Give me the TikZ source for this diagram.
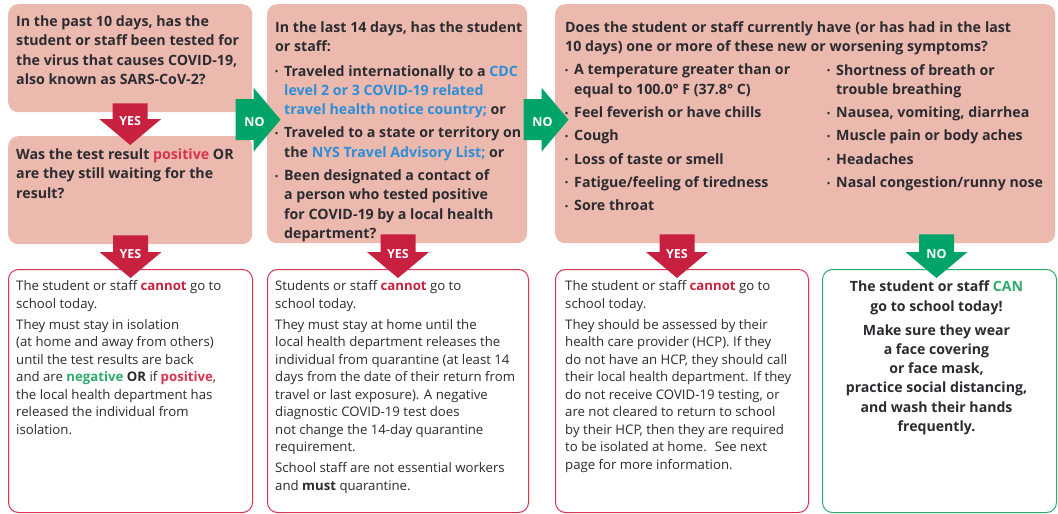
\documentclass[tikz,border=0pt]{standalone}
\usepackage{fontspec}
\setmainfont{Open Sans}
\usetikzlibrary{positioning,calc}
\definecolor{ink}{HTML}{2B2B30}
\definecolor{blush}{HTML}{ECB9AF}
\definecolor{crimson}{HTML}{C8203F}
\definecolor{rose}{HTML}{D8344F}
\definecolor{mint}{HTML}{00A468}
\definecolor{leaf}{HTML}{2EAA6B}
\definecolor{sky}{HTML}{2C8ED6}
\newcommand{\bul}{\makebox[9pt][l]{\raisebox{0.2ex}{\fontsize{8}{8}\selectfont\textbullet}}}
\newcommand{\ind}{\hspace*{9pt}}

\begin{document}
\begin{tikzpicture}[x=1pt,y=-1pt,
  qbox/.style={fill=blush,rounded corners=10pt,anchor=north west,inner sep=0pt},
  abox/.style={draw=#1,fill=white,line width=1pt,rounded corners=10pt,anchor=north west,inner sep=0pt},
  qtext/.style={anchor=north west,inner sep=0pt,align=left,text=ink,font=\fontsize{14.2}{19.3}\selectfont\bfseries},
  atext/.style={anchor=north west,inner sep=0pt,align=left,text=ink,font=\fontsize{13.2}{17.5}\selectfont},
  tag/.style={text=white,inner sep=0pt,font=\fontsize{12.5}{12.5}\selectfont\bfseries}]
\useasboundingbox (0,0) rectangle (1058,514);

% question boxes
\node[qbox,minimum width=244pt,minimum height=108pt] (q1) at (8,4) {};
\node[qbox,minimum width=244pt,minimum height=108pt] (q2) at (8,136) {};
\node[qbox,minimum width=260pt,minimum height=239pt] (q3) at (267,4) {};
\node[qbox,minimum width=500pt,minimum height=239pt] (q4) at (555,4) {};

% answer boxes
\node[abox=rose,minimum width=244pt,minimum height=243pt] (a1) at (8,269) {};
\node[abox=rose,minimum width=261pt,minimum height=243pt] (a2) at (267,269) {};
\node[abox=rose,minimum width=253pt,minimum height=243pt] (a3) at (555,269) {};
\node[abox=leaf,minimum width=234pt,minimum height=243pt] (a4) at (822,269) {};

\node[qtext] (q1t) at ($(q1.north west)+(8,11.5)$) {In the past 10 days, has the\\student or staff been tested for\\the virus that causes COVID-19,\\also known as SARS-CoV-2?};
\node[qtext] (q2t) at ($(q2.north west)+(8,12.5)$) {Was the test result \textcolor{rose}{positive} OR\\are they still waiting for the\\result?};
\node[qtext] (q3t) at ($(q3.north west)+(8,17.5)$) {In the last 14 days, has the student\\or staff:\\[5pt]\bul Traveled internationally to a \textcolor{sky}{CDC}\\\ind\textcolor{sky}{level 2 or 3 COVID-19 related}\\\ind\textcolor{sky}{travel health notice country;} or\\[4pt]\bul Traveled to a state or territory on\\\ind the \textcolor{sky}{NYS Travel Advisory List;} or\\[4pt]\bul Been designated a contact of\\\ind a person who tested positive\\\ind for COVID-19 by a local health\\\ind department?};
\node[qtext] (q4t) at ($(q4.north west)+(10,17.5)$) {\makebox[446pt][s]{Does the student or staff currently have (or has had in the last}\\10 days) one or more of these new or worsening symptoms?};
\node[qtext] (q4l) at ($(q4.north west)+(10,60)$) {\bul A temperature greater than or\\\ind equal to 100.0° F (37.8° C)\\[4pt]\bul Feel feverish or have chills\\[4pt]\bul Cough\\[4pt]\bul Loss of taste or smell\\[4pt]\bul Fatigue/feeling of tiredness\\[4pt]\bul Sore throat};
\node[qtext] (q4r) at ($(q4.north west)+(272,60)$) {\bul Shortness of breath or\\\ind trouble breathing\\[4pt]\bul Nausea, vomiting, diarrhea\\[4pt]\bul Muscle pain or body aches\\[4pt]\bul Headaches\\[4pt]\bul Nasal congestion/runny nose};

\node[atext] (a1t) at ($(a1.north west)+(8,11.3)$) {The student or staff \textcolor{crimson}{\textbf{cannot}} go to\\school today.\\[3.5pt]They must stay in isolation\\(at home and away from others)\\until the test results are back\\and are \textcolor{leaf}{\textbf{negative}} \textbf{OR} if \textcolor{rose}{\textbf{positive}},\\the local health department has\\released the individual from\\isolation.};
\node[atext] (a2t) at ($(a2.north west)+(8,11.3)$) {Students or staff \textcolor{crimson}{\textbf{cannot}} go to\\school today.\\[3.5pt]They must stay at home until the\\local health department releases the\\individual from quarantine (at least 14\\days from the date of their return from\\travel or last exposure). A negative\\diagnostic COVID-19 test does\\not change the 14-day quarantine\\requirement.\\[3.5pt]School staff are not essential workers\\and \textbf{must} quarantine.};
\node[atext] (a3t) at ($(a3.north west)+(10,11.3)$) {The student or staff \textcolor{crimson}{\textbf{cannot}} go to\\school today.\\[3.5pt]They should be assessed by their\\health care provider (HCP). If they\\do not have an HCP, they should call\\their local health department. If they\\do not receive COVID-19 testing, or\\are not cleared to return to school\\by their HCP, then they are required\\to be isolated at home.~ See next\\page for more information.};
\node[qtext,anchor=north,align=center,font=\fontsize{14.1}{19.3}\selectfont\bfseries] (a4t) at ($(a4.north)+(-3,12)$) {The student or staff \textcolor{leaf}{CAN}\\go to school today!\\[4.5pt]Make sure they wear\\a face covering\\or face mask,\\practice social distancing,\\and wash their hands\\frequently.};

% block arrows down
\foreach \from/\to/\lab/\col/\dx in {q1/q2/YES/crimson/0,q2/a1/YES/crimson/0,q3/a2/YES/crimson/0,q4/a3/YES/crimson/-5,q4/a4/NO/mint/-3}{
  \coordinate (tip) at ($(\to.north)+(\dx,9)$);
  \coordinate (top) at ($(\to.north |- \from.south)+(\dx,-9)$);
  \fill[\col] ($(top)+(-17.5,0)$) -- ($(tip)+(-17.5,-26)$) -- ($(tip)+(-31,-26)$) -- (tip)
    -- ($(tip)+(31,-26)$) -- ($(tip)+(17.5,-26)$) -- ($(top)+(17.5,0)$) -- cycle;
  \node[tag] (\from-\to) at ($(tip)+(0,-23.5)$) {\lab};
}
% block arrows right
\foreach \from/\to in {q1/q3,q3/q4}{
  \coordinate (tip) at ($(\to.west)+(13.5,-4)$);
  \fill[mint] ($(tip)+(-45,-20.5)$) -- ($(tip)+(-27,-20.5)$) -- ($(tip)+(-27,-32)$) -- (tip)
    -- ($(tip)+(-27,32)$) -- ($(tip)+(-27,20.5)$) -- ($(tip)+(-45,20.5)$) -- cycle;
  \node[tag] (\from-\to) at ($(tip)+(-26,2)$) {NO};
}
\end{tikzpicture}
\end{document}
